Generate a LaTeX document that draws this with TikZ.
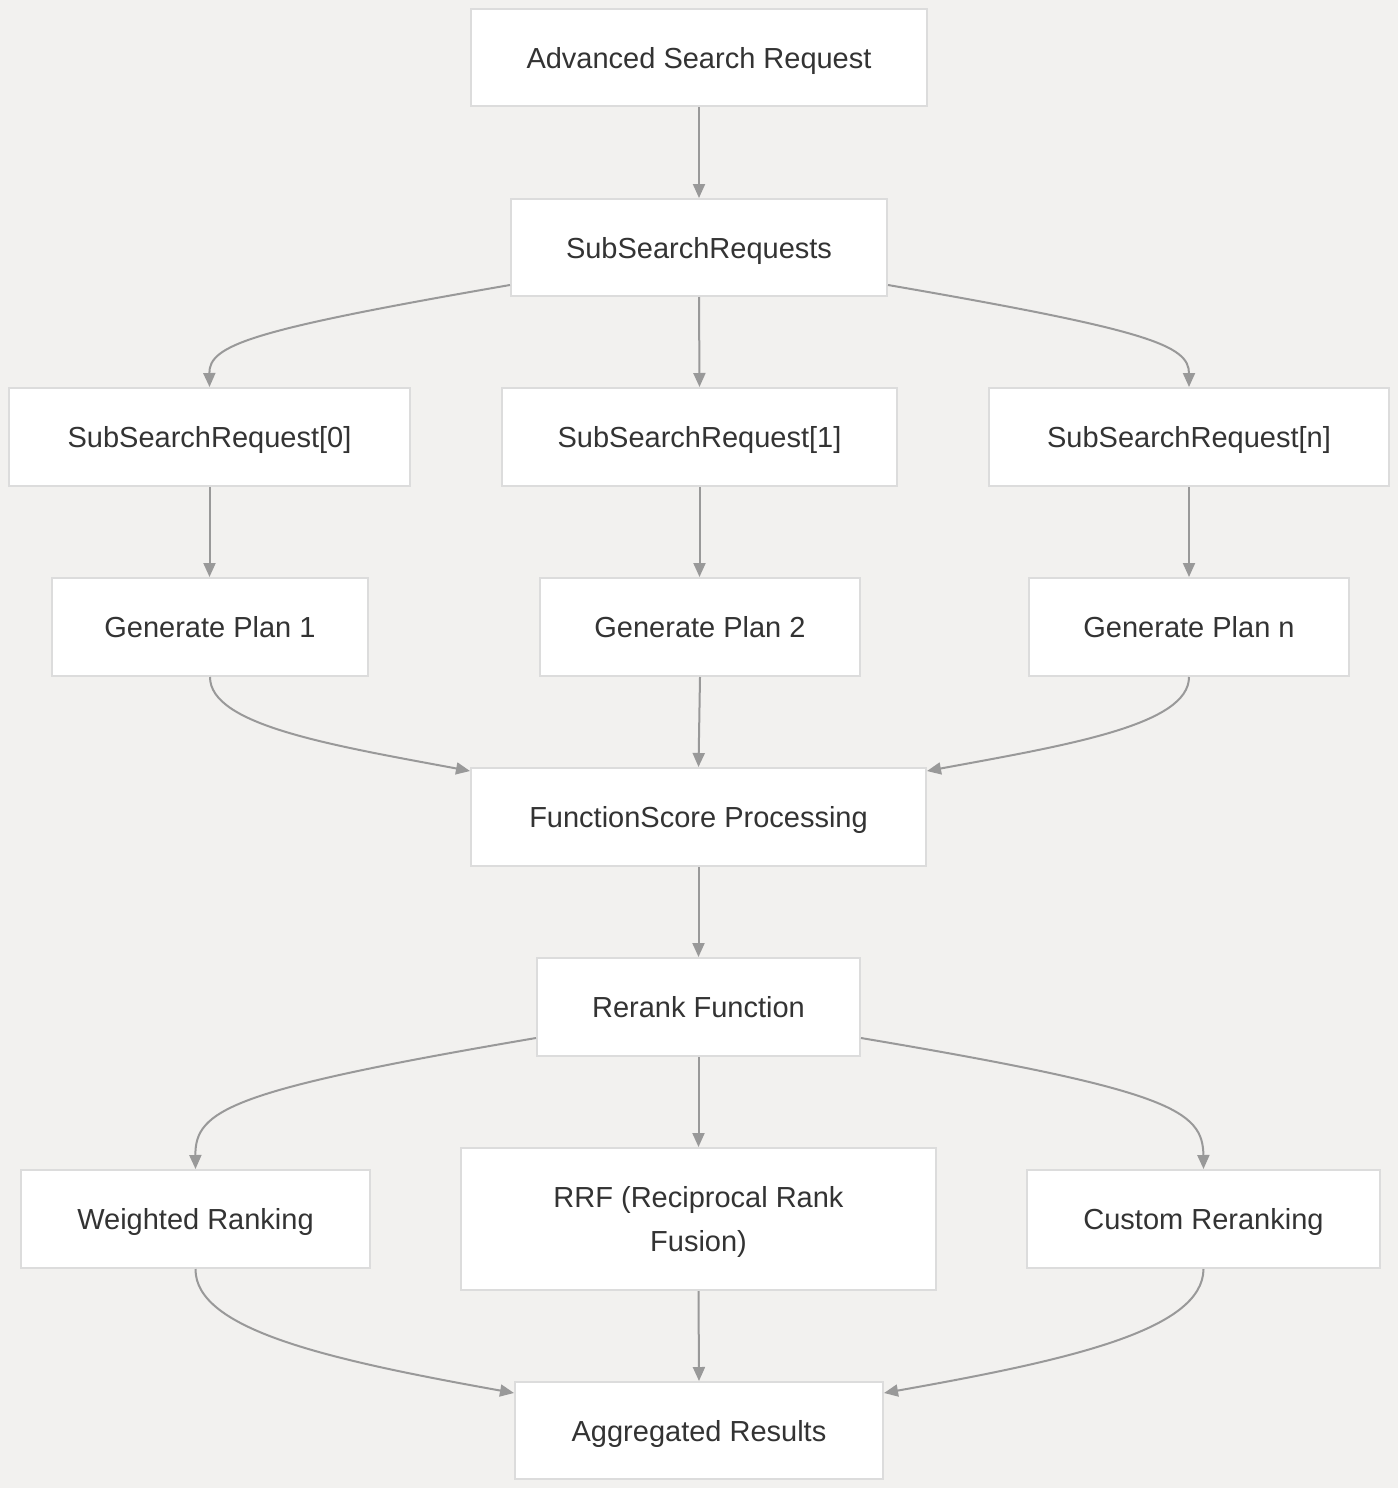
\documentclass[tikz,border=0pt]{standalone}
\usepackage{fontspec}
\setmainfont{Liberation Sans}
\usetikzlibrary{arrows.meta}
\definecolor{bgc}{HTML}{F2F1EF}
\definecolor{boxline}{HTML}{DCDCDC}
\definecolor{edgec}{HTML}{999999}
\definecolor{txt}{HTML}{333333}
\begin{document}
\begin{tikzpicture}[x=1pt,y=-1pt,
  box/.style={draw=boxline,line width=2pt,fill=white,text=txt,font=\fontsize{29}{44}\selectfont,inner sep=0pt,align=center,text depth=0pt},
  edge/.style={draw=edgec,line width=2pt,-{Triangle[length=14pt,width=12pt]}}]
\fill[bgc] (0,0) rectangle (1398,1488);
\useasboundingbox (0,0) rectangle (1398,1488);
\node[box,minimum width=456pt,minimum height=97pt] (a) at (699,57.5) {Advanced Search Request};
\node[box,minimum width=376pt,minimum height=97pt] (b) at (699,247.5) {SubSearchRequests};
\node[box,minimum width=401pt,minimum height=98pt] (c0) at (209.5,437) {SubSearchRequest[0]};
\node[box,minimum width=395pt,minimum height=98pt] (c1) at (699.5,437) {SubSearchRequest[1]};
\node[box,minimum width=400pt,minimum height=98pt] (cn) at (1189,437) {SubSearchRequest[n]};
\node[box,minimum width=316pt,minimum height=98pt] (g1) at (210,627) {Generate Plan 1};
\node[box,minimum width=320pt,minimum height=98pt] (g2) at (700,627) {Generate Plan 2};
\node[box,minimum width=320pt,minimum height=98pt] (gn) at (1189,627) {Generate Plan n};
\node[box,minimum width=455pt,minimum height=98pt] (f) at (698.5,817) {FunctionScore Processing};
\node[box,minimum width=323pt,minimum height=98pt] (r) at (698.5,1007) {Rerank Function};
\node[box,minimum width=349pt,minimum height=98pt] (w) at (195.5,1219) {Weighted Ranking};
\node[box,minimum width=475pt,minimum height=142pt] (rrf) at (698.5,1219) {RRF (Reciprocal Rank\\Fusion)};
\node[box,minimum width=353pt,minimum height=98pt] (cu) at (1203.5,1219) {Custom Reranking};
\node[box,minimum width=368pt,minimum height=97pt] (ag) at (699,1430.5) {Aggregated Results};
% straight edges
\draw[edge] (a.south) -- (b.north);
\draw[edge] (b.south) -- (c1.north);
\draw[edge] (c0.south) -- (c0.south |- g1.north);
\draw[edge] (c1.south) -- (c1.south |- g2.north);
\draw[edge] (cn.south) -- (gn.north);
\draw[edge] (g2.south) -- (f.north);
\draw[edge] (f.south) -- (r.north);
\draw[edge] (r.south) -- (rrf.north);
\draw[edge] (rrf.south) -- (ag.north);
% curved edges
\draw[edge] ([yshift=-37.5pt]b.west) .. controls (250,330) and (209,345) .. (c0.north);
\draw[edge] ([yshift=-37.5pt]b.east) .. controls (1148,330) and (1189,345) .. (cn.north);
\draw[edge] (g1.south) .. controls (210,725) and (330,745) .. ([yshift=46pt]f.west);
\draw[edge] (gn.south) .. controls (1189,725) and (1068,745) .. ([yshift=46pt]f.east);
\draw[edge] ([yshift=-31pt]r.west) .. controls (230,1090) and (195,1110) .. (w.north);
\draw[edge] ([yshift=-31pt]r.east) .. controls (1170,1090) and (1203,1110) .. (cu.north);
\draw[edge] (w.south) .. controls (195,1330) and (330,1360) .. ([yshift=37.5pt]ag.west);
\draw[edge] (cu.south) .. controls (1203,1330) and (1070,1360) .. ([yshift=37.5pt]ag.east);
\end{tikzpicture}
\end{document}
